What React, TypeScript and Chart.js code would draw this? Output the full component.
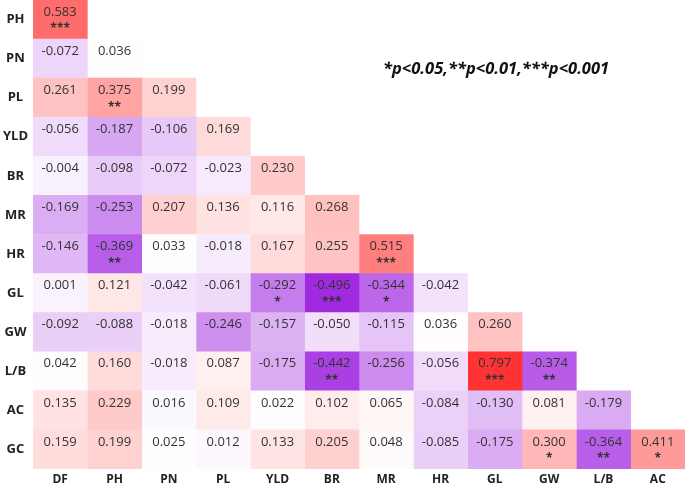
import React, { useEffect, useRef } from "react";
import { Chart, registerables } from "chart.js";

Chart.register(...registerables);

// Row variables (y axis, top to bottom) and column variables (x axis)
const rowLabels = ["PH", "PN", "PL", "YLD", "BR", "MR", "HR", "GL", "GW", "L/B", "AC", "GC"];
const colLabels = ["DF", "PH", "PN", "PL", "YLD", "BR", "MR", "HR", "GL", "GW", "L/B", "AC"];

// Correlation coefficients, one array per row (lower triangle)
const rPH = [0.583];
const rPN = [-0.072, 0.036];
const rPL = [0.261, 0.375, 0.199];
const rYLD = [-0.056, -0.187, -0.106, 0.169];
const rBR = [-0.004, -0.098, -0.072, -0.023, 0.23];
const rMR = [-0.169, -0.253, 0.207, 0.136, 0.116, 0.268];
const rHR = [-0.146, -0.369, 0.033, -0.018, 0.167, 0.255, 0.515];
const rGL = [0.001, 0.121, -0.042, -0.061, -0.292, -0.496, -0.344, -0.042];
const rGW = [-0.092, -0.088, -0.018, -0.246, -0.157, -0.05, -0.115, 0.036, 0.26];
const rLB = [0.042, 0.16, -0.018, 0.087, -0.175, -0.442, -0.256, -0.056, 0.797, -0.374];
const rAC = [0.135, 0.229, 0.016, 0.109, 0.022, 0.102, 0.065, -0.084, -0.13, 0.081, -0.179];
const rGC = [0.159, 0.199, 0.025, 0.012, 0.133, 0.205, 0.048, -0.085, -0.175, 0.3, -0.364, 0.411];

// Significance marks, one array per row
const sPH = ["***"];
const sPN = ["", ""];
const sPL = ["", "**", ""];
const sYLD = ["", "", "", ""];
const sBR = ["", "", "", "", ""];
const sMR = ["", "", "", "", "", ""];
const sHR = ["", "**", "", "", "", "", "***"];
const sGL = ["", "", "", "", "*", "***", "*", ""];
const sGW = ["", "", "", "", "", "", "", "", ""];
const sLB = ["", "", "", "", "", "**", "", "", "***", "**"];
const sAC = ["", "", "", "", "", "", "", "", "", "", ""];
const sGC = ["", "", "", "", "", "", "", "", "", "*", "**", "*"];

const legendText = "*p<0.05,**p<0.01,***p<0.001";

const values = [rPH, rPN, rPL, rYLD, rBR, rMR, rHR, rGL, rGW, rLB, rAC, rGC];
const stars = [sPH, sPN, sPL, sYLD, sBR, sMR, sHR, sGL, sGW, sLB, sAC, sGC];

function cellColor(v: number): string {
  const mid = 0.03;
  if (v >= mid) {
    const t = Math.min(1, (v - mid) / (0.8 - mid));
    const g = Math.round(255 - 205 * t);
    return `rgb(255,${g},${g})`;
  }
  const t = Math.min(1, (mid - v) / (0.5 + mid));
  return `rgb(${Math.round(255 - 95 * t)},${Math.round(255 - 215 * t)},${Math.round(255 - 30 * t)})`;
}

const FONT = "'Open Sans', 'DejaVu Sans', sans-serif";

export default function App() {
  const ref = useRef<HTMLCanvasElement | null>(null);

  useEffect(() => {
    if (!ref.current) return;
    const datasets = colLabels.map((_, j) => ({
      label: colLabels[j],
      data: rowLabels.map((_, i) => (j < values[i].length ? [j - 0.5, j + 0.5] : null)),
      backgroundColor: rowLabels.map((_, i) => (j < values[i].length ? cellColor(values[i][j]) : "transparent")),
      borderWidth: 0,
      barPercentage: 1,
      categoryPercentage: 1,
      grouped: false,
    }));

    const textPlugin = {
      id: "cellText",
      afterDatasetsDraw(chart: any) {
        const ctx = chart.ctx;
        ctx.save();
        ctx.fillStyle = "#333";
        ctx.textAlign = "center";
        ctx.textBaseline = "middle";
        chart.data.datasets.forEach((ds: any, j: number) => {
          const meta = chart.getDatasetMeta(j);
          meta.data.forEach((el: any, i: number) => {
            if (j >= values[i].length) return;
            const p = el.getProps(["x", "y", "base", "height"], true);
            const cx = (p.x + p.base) / 2;
            const top = p.y - p.height / 2;
            ctx.font = `13px ${FONT}`;
            ctx.fillText(values[i][j].toFixed(3), cx, top + 12);
            if (stars[i][j]) {
              ctx.font = `bold 12px ${FONT}`;
              ctx.fillText(stars[i][j], cx, top + 29);
            }
          });
        });
        ctx.restore();
      },
    };

    const chart = new Chart(ref.current, {
      type: "bar",
      data: { labels: rowLabels, datasets: datasets as any },
      options: {
        indexAxis: "y",
        animation: false,
        responsive: false,
        maintainAspectRatio: false,
        layout: { padding: 0 },
        plugins: { legend: { display: false }, tooltip: { enabled: false } },
        scales: {
          x: {
            type: "linear",
            min: -0.5,
            max: 11.5,
            grid: { display: false, drawTicks: false },
            border: { display: false },
            afterBuildTicks: (s: any) => {
              s.ticks = colLabels.map((_, i) => ({ value: i }));
            },
            afterFit: (s: any) => {
              s.height = 17;
              s.paddingLeft = 0;
              s.paddingRight = 0;
            },
            ticks: {
              autoSkip: false,
              maxRotation: 0,
              padding: 3,
              color: "#222",
              font: { family: FONT, size: 12, weight: "bold" },
              callback: (v: any) => colLabels[Math.round(Number(v))] ?? "",
            },
          },
          y: {
            type: "category",
            grid: { display: false, drawTicks: false },
            border: { display: false },
            afterFit: (s: any) => {
              s.width = 33;
              s.paddingTop = 0;
              s.paddingBottom = 0;
            },
            ticks: {
              crossAlign: "center",
              padding: 5,
              color: "#222",
              font: { family: FONT, size: 13, weight: "bold" },
            },
          },
        },
      },
      plugins: [textPlugin],
    });
    return () => chart.destroy();
  }, []);

  return (
    <div style={{ position: "fixed", left: 0, top: 0, width: 685, height: 486, background: "#fff" }}>
      <canvas ref={ref} width={685} height={486} style={{ width: 685, height: 486, display: "block" }} />
      <div
        style={{
          position: "absolute",
          left: 383,
          top: 56,
          fontFamily: FONT,
          fontWeight: "bold",
          fontStyle: "italic",
          fontSize: 16.5,
          color: "#111",
          whiteSpace: "nowrap",
        }}
      >
        {legendText}
      </div>
    </div>
  );
}
